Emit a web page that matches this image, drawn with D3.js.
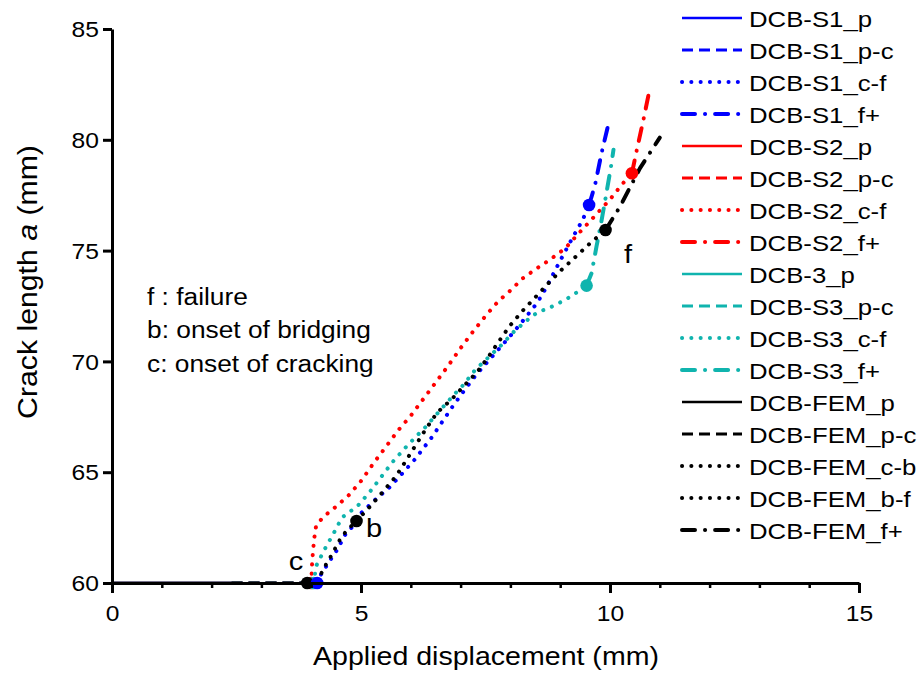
<!DOCTYPE html>
<html>
<head>
<meta charset="utf-8">
<script src="https://cdn.jsdelivr.net/npm/d3@7"></script>
<style>
  body { margin: 0; background: #fff; }
  text { font-family: "Liberation Sans", Arial, sans-serif; fill: #000; }
</style>
</head>
<body>
<svg id="chart" width="919" height="674"></svg>
<script>
// crack length vs applied displacement, DCB tests + FEM

// axis ticks
const xTicks = [0, 5, 10, 15];
const yTicks = [60, 65, 70, 75, 80, 85];

// specimen S1 [displacement mm, crack length mm]
const s1P  = [[0, 60], [2.4, 60]];
const s1PC = [[2.4, 60], [4.12, 60]];
const s1CF = [[4.12, 60], [4.18, 60.32], [4.36, 60.96], [4.52, 61.49], [4.68, 62.17], [4.86, 62.62],
  [5.01, 63.17], [5.28, 63.75], [5.57, 64.31], [5.82, 64.92], [6.07, 65.55], [6.42, 66.57], [6.85, 68.0],
  [7.07, 68.68], [7.31, 69.39], [7.56, 70.03], [7.8, 70.64], [8.06, 71.31], [8.29, 71.94], [8.54, 72.65],
  [8.73, 73.37], [8.91, 74.16], [9.08, 74.88], [9.26, 75.63], [9.45, 76.38], [9.58, 77.06]];
const s1F  = [[9.58, 77.06], [9.7, 77.96], [9.83, 79.4], [9.98, 80.82]];

// specimen S2
const s2P  = [[0, 60], [2.4, 60]];
const s2PC = [[2.4, 60], [4.0, 60]];
const s2CF = [[4.0, 60], [4.02, 61], [4.06, 62], [4.1, 62.6], [4.25, 63.0], [4.5, 63.45], [4.75, 63.95],
  [5.0, 64.6], [5.25, 65.4], [5.5, 66.15], [5.75, 66.9], [6.0, 67.55], [6.25, 68.3], [6.5, 69.05],
  [6.75, 69.8], [7.0, 70.6], [7.25, 71.35], [7.5, 72.05], [7.75, 72.7], [8.0, 73.2], [8.25, 73.75],
  [8.5, 74.15], [8.8, 74.6], [9.1, 75.1], [9.36, 75.75], [9.62, 76.38], [10.0, 77.31], [10.23, 77.96],
  [10.44, 78.49]];
const s2F  = [[10.44, 78.49], [10.53, 79.46], [10.67, 80.89], [10.8, 82.32]];

// specimen S3
const s3P  = [[0, 60], [2.4, 60]];
const s3PC = [[2.4, 60], [4.05, 60]];
const s3CF = [[4.05, 60], [4.1, 60.77], [4.27, 61.52], [4.45, 62.24], [4.62, 62.96], [4.93, 63.47],
  [5.18, 64.12], [5.4, 64.77], [5.63, 65.45], [5.88, 66.08], [6.15, 66.71], [6.3, 67.05], [6.67, 68.0],
  [6.91, 68.6], [7.04, 68.9], [7.29, 69.61], [7.82, 70.74], [8.09, 71.39], [8.38, 71.94], [8.56, 72.24],
  [8.73, 72.36], [8.9, 72.55], [9.06, 72.73], [9.23, 72.95], [9.38, 73.19], [9.53, 73.42]];
const s3F  = [[9.53, 73.42], [9.63, 73.98], [9.73, 75.2], [9.82, 76.23], [9.91, 77.36], [10.02, 78.79], [10.07, 79.55]];

// FEM
const femP  = [[0, 60], [2.4, 60]];
const femPC = [[2.4, 60], [3.92, 60]];
const femCB = [[3.92, 60], [4.1, 60.1], [4.21, 60.46], [4.31, 60.89], [4.41, 61.26], [4.5, 61.64],
  [4.61, 62.09], [4.75, 62.45], [4.91, 62.8]];
const femBF = [[4.91, 62.8], [5.21, 63.52], [5.47, 64.2], [5.71, 64.84], [5.92, 65.58], [6.12, 66.3],
  [6.32, 67.01], [6.53, 67.69], [6.82, 68.29], [7.07, 68.9], [7.34, 69.54], [7.56, 70.21], [7.78, 70.94],
  [7.99, 71.61], [8.24, 72.27], [8.49, 72.87], [8.76, 73.52], [9.02, 74.12], [9.3, 74.7], [9.58, 75.29],
  [9.72, 75.56], [9.91, 75.93]];
const femF  = [[9.91, 75.93], [10.2, 76.98], [10.6, 78.71], [11.0, 80.1]];

// marked points: [x, y, colour key], drawn in this order
const markers = [[4.0, 60, 'red'], [4.05, 60, 'cyan'], [3.92, 60, 'black'], [4.12, 60, 'blue'],
  [4.91, 62.8, 'black'], [9.58, 77.06, 'blue'], [10.44, 78.49, 'red'], [9.53, 73.42, 'cyan'], [9.91, 75.93, 'black']];

const colors = { blue: '#0000ff', red: '#ff0000', cyan: '#10b4ae', black: '#000000' };
const styles = {
  p:  { dash: null, w: 2.6, cap: 'butt' },
  pc: { dash: '11,6', w: 3, cap: 'butt' },
  cf: { dash: '0.1,9.2', w: 4, cap: 'round' },
  f:  { dash: '13,10,0.1,10', w: 4, cap: 'round' }
};

const series = [
  { name: 'DCB-S1_p', c: 'blue', s: 'p', data: s1P },
  { name: 'DCB-S1_p-c', c: 'blue', s: 'pc', data: s1PC },
  { name: 'DCB-S1_c-f', c: 'blue', s: 'cf', data: s1CF },
  { name: 'DCB-S1_f+', c: 'blue', s: 'f', data: s1F },
  { name: 'DCB-S2_p', c: 'red', s: 'p', data: s2P },
  { name: 'DCB-S2_p-c', c: 'red', s: 'pc', data: s2PC },
  { name: 'DCB-S2_c-f', c: 'red', s: 'cf', data: s2CF },
  { name: 'DCB-S2_f+', c: 'red', s: 'f', data: s2F },
  { name: 'DCB-3_p', c: 'cyan', s: 'p', data: s3P },
  { name: 'DCB-S3_p-c', c: 'cyan', s: 'pc', data: s3PC },
  { name: 'DCB-S3_c-f', c: 'cyan', s: 'cf', data: s3CF },
  { name: 'DCB-S3_f+', c: 'cyan', s: 'f', data: s3F },
  { name: 'DCB-FEM_p', c: 'black', s: 'p', data: femP },
  { name: 'DCB-FEM_p-c', c: 'black', s: 'pc', data: femPC },
  { name: 'DCB-FEM_c-b', c: 'black', s: 'cf', data: femCB },
  { name: 'DCB-FEM_b-f', c: 'black', s: 'cf', data: femBF },
  { name: 'DCB-FEM_f+', c: 'black', s: 'f', data: femF }
];

const svg = d3.select('#chart');
const x = d3.scaleLinear().domain([0, 15]).range([112, 859]);
const y = d3.scaleLinear().domain([60, 85]).range([583, 29]);
const SX = 1.12; // text in the original is a bit wider than Arial

function txt(g, tx, ty, s, size, anchor) {
  return g.append('text')
    .attr('transform', `translate(${tx},${ty}) scale(${SX},1)`)
    .attr('text-anchor', anchor || 'start')
    .style('font-size', size + 'px')
    .text(s);
}

function applyStyle(sel, d) {
  const st = styles[d.s];
  sel.attr('fill', 'none').attr('stroke', colors[d.c]).attr('stroke-width', st.w)
    .attr('stroke-linecap', st.cap).attr('stroke-linejoin', 'round');
  if (st.dash) sel.attr('stroke-dasharray', st.dash);
}

// curves
const line = d3.line().x(d => x(d[0])).y(d => y(d[1]));
series.forEach(d => {
  svg.append('path').datum(d.data).attr('d', line).call(applyStyle, d);
});

// points
svg.append('g').selectAll('circle').data(markers).enter().append('circle')
  .attr('cx', d => x(d[0])).attr('cy', d => y(d[1])).attr('r', 6.3)
  .attr('fill', d => colors[d[2]]);

// axes
const xMinor = d3.range(0, 16).filter(v => v % 5 !== 0);
svg.append('g').attr('transform', 'translate(0,583)')
  .call(d3.axisBottom(x).tickValues(xMinor).tickSize(5).tickSizeOuter(0).tickFormat(''))
  .call(g => g.select('.domain').remove())
  .call(g => g.selectAll('line').attr('stroke-width', 2.5));
const gx = svg.append('g').attr('transform', 'translate(0,583)')
  .call(d3.axisBottom(x).tickValues(xTicks).tickSize(10).tickSizeOuter(0).tickFormat(d3.format('d')));
gx.selectAll('text').attr('y', 0).attr('dy', 0)
  .attr('transform', `translate(0,38) scale(${SX},1)`);
const gy = svg.append('g').attr('transform', 'translate(112,0)')
  .call(d3.axisLeft(y).tickValues(yTicks).tickSize(9).tickSizeOuter(0).tickFormat(d3.format('d')));
gy.selectAll('text').attr('x', 0).attr('dy', '0.35em')
  .attr('transform', `translate(-13,0) scale(${SX},1)`);
[gx, gy].forEach(g => {
  g.select('.domain').attr('stroke-width', 3);
  g.selectAll('line').attr('stroke-width', 3);
  g.selectAll('text').style('font-size', '22px').attr('font-family', null).attr('fill', '#000');
});

// axis titles
txt(svg, 486, 665, 'Applied displacement (mm)', 25.5, 'middle');
const yt = svg.append('text')
  .attr('transform', `translate(37,282) rotate(-90) scale(${SX},1)`)
  .attr('text-anchor', 'middle').style('font-size', '27px');
yt.append('tspan').text('Crack length ');
yt.append('tspan').style('font-style', 'italic').text('a');
yt.append('tspan').text(' (mm)');

// point letters
txt(svg, 296, 570, 'c', 26, 'middle');
txt(svg, 374, 537, 'b', 26, 'middle');
txt(svg, 628, 263, 'f', 26, 'middle');

// key to the letters
txt(svg, 147, 305, 'f : failure', 23.5);
txt(svg, 147, 338, 'b: onset of bridging', 23.5);
txt(svg, 147, 372, 'c: onset of cracking', 23.5);

// legend
const leg = svg.append('g');
series.forEach((d, i) => {
  const ly = 18 + i * 32;
  leg.append('line').attr('x1', 682).attr('x2', 742).attr('y1', ly).attr('y2', ly).call(applyStyle, d);
  txt(leg, 749, ly + 8.5, d.name, 23);
});
</script>
</body>
</html>
